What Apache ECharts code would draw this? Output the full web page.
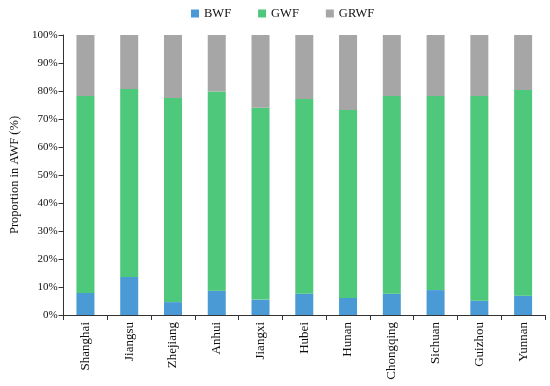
<!DOCTYPE html>
<html>
<head>
<meta charset="utf-8">
<script src="https://cdn.jsdelivr.net/npm/echarts@6/dist/echarts.min.js"></script>
<style>html,body{margin:0;padding:0;background:#fff;}#c{width:550px;height:386px;}</style>
</head>
<body>
<div id="c"></div>
<script>
const categories = ['Shanghai','Jiangsu','Zhejiang','Anhui','Jiangxi','Hubei','Hunan','Chongqing','Sichuan','Guizhou','Yunnan'];
const bwf  = [7.9, 13.6, 4.6, 8.7, 5.5, 7.6, 6.1, 7.6, 8.9, 5.1, 6.9];
const gwf  = [70.3, 67.1, 72.9, 71.1, 68.5, 69.5, 67.1, 70.6, 69.3, 73.1, 73.5];
const grwf = [21.8, 19.3, 22.5, 20.2, 26.0, 22.9, 26.8, 21.8, 21.8, 21.8, 19.6];
const yTicks = [0,10,20,30,40,50,60,70,80,90,100];

const font = 'Liberation Serif';
const chart = echarts.init(document.getElementById('c'));
function s(name, data, color){
  return {name, type:'bar', stack:'t', data, barWidth:18,
    itemStyle:{color}, emphasis:{disabled:true}};
}
chart.setOption({
  animation:false,
  textStyle:{fontFamily:font},
  legend:{top:2, left:186, itemWidth:8, itemHeight:8, itemGap:27, icon:'rect',
    textStyle:{fontFamily:font, fontSize:12.5, color:'#111'},
    data:['BWF','GWF','GRWF']},
  grid:{left:51, right:5, top:35, bottom:71},
  xAxis:{type:'category', data:categories,
    axisLine:{lineStyle:{color:'#333', width:1}},
    axisTick:{show:true, alignWithLabel:false, length:5, lineStyle:{color:'#333'}},
    axisLabel:{rotate:90, interval:0, fontFamily:font, fontSize:13, color:'#111', margin:7}},
  yAxis:{type:'value', min:0, max:100, interval:10,
    name:'Proportion in AWF (%)', nameLocation:'middle', nameGap:40, nameRotate:90,
    nameTextStyle:{fontFamily:font, fontSize:12.5, color:'#111'},
    axisLine:{show:true, lineStyle:{color:'#333'}},
    axisTick:{show:true, length:5, lineStyle:{color:'#333'}},
    splitLine:{show:false},
    axisLabel:{fontFamily:font, fontSize:11, color:'#111', margin:6,
      formatter: v => yTicks.includes(v) ? v + '%' : ''}},
  series:[s('BWF', bwf, '#4a9ad6'), s('GWF', gwf, '#4ec87a'), s('GRWF', grwf, '#a6a6a6')]
});
</script>
</body>
</html>
